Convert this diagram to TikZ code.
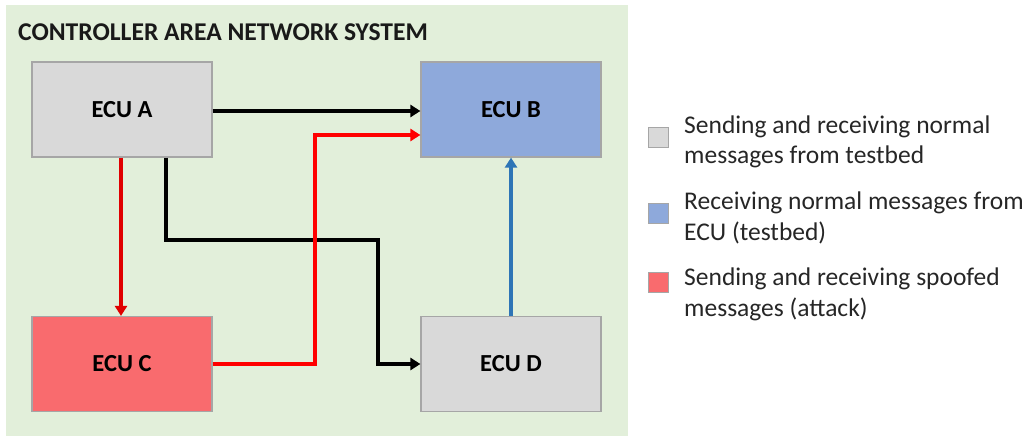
\documentclass[tikz,border=0pt]{standalone}
\usepackage{fontspec}
\setmainfont{Carlito}
\usetikzlibrary{arrows.meta}
\definecolor{bggreen}{HTML}{E2EFDA}
\definecolor{ecugray}{HTML}{D9D9D9}
\definecolor{ecublue}{HTML}{8EA9DB}
\definecolor{ecured}{HTML}{F96B6E}
\definecolor{edgegray}{HTML}{A6A6A6}
\definecolor{linkblue}{HTML}{2E75B6}
\definecolor{linkred}{HTML}{FF0000}
\definecolor{linkdred}{HTML}{E00000}
\tikzset{
  ecubox/.style={draw=edgegray, line width=1.2pt, minimum width=180pt, minimum height=95pt,
    inner sep=0pt, font=\fontsize{24.5}{28}\selectfont\bfseries},
  legbox/.style={draw=edgegray, line width=1pt, minimum width=20pt, minimum height=20pt, inner sep=0pt},
  legtext/.style={anchor=west, align=left, inner sep=0pt, font=\fontsize{25.5}{30}\selectfont, text=black!85},
  link/.style={line width=3.6pt, -{Triangle[length=10pt,width=12pt]}, line join=miter},
}
\begin{document}
\begin{tikzpicture}[x=1pt, y=-1pt]
  \useasboundingbox (0,0) rectangle (1027,436);
  % system area
  \fill[bggreen] (6,5) rectangle (628,436);
  \node[anchor=west, inner sep=0pt, font=\fontsize{25.6}{30}\selectfont\bfseries, text=black!90] (title) at (18,32) {CONTROLLER AREA NETWORK SYSTEM};

  % control units
  \node[ecubox, fill=ecugray] (A) at (122,109.5) {ECU A};
  \node[ecubox, fill=ecublue] (B) at (511,109.5) {ECU B};
  \node[ecubox, fill=ecured]  (C) at (122,364) {ECU C};
  \node[ecubox, fill=ecugray] (D) at (511,364) {ECU D};

  % message paths
  \draw[link, black] (A.east |- 0,111) -- (B.west |- 0,111);
  \draw[link, linkdred] (A.south -| 121,0) -- (C.north -| 121,0);
  \draw[link, black] (A.south -| 166,0) |- (378,240) |- (D.west);
  \draw[link, linkred] (C.east) -| (315,135) -- (B.west |- 0,135);
  \draw[link, linkblue] (D.north) -- (B.south);

  % legend
  \node[legbox, fill=ecugray] (k1) at (658,137) {};
  \node[legbox, fill=ecublue] (k2) at (658,213) {};
  \node[legbox, fill=ecured]  (k3) at (658,282) {};
  \node[legtext] (t1) at (684,127) {Sending and receiving normal};
  \node[legtext] (t1b) at (684,157) {messages from testbed};
  \node[legtext] (t2) at (684,203) {Receiving normal messages from};
  \node[legtext] (t2b) at (684,233) {ECU (testbed)};
  \node[legtext] (t3) at (684,279) {Sending and receiving spoofed};
  \node[legtext] (t3b) at (684,309) {messages (attack)};
\end{tikzpicture}
\end{document}
